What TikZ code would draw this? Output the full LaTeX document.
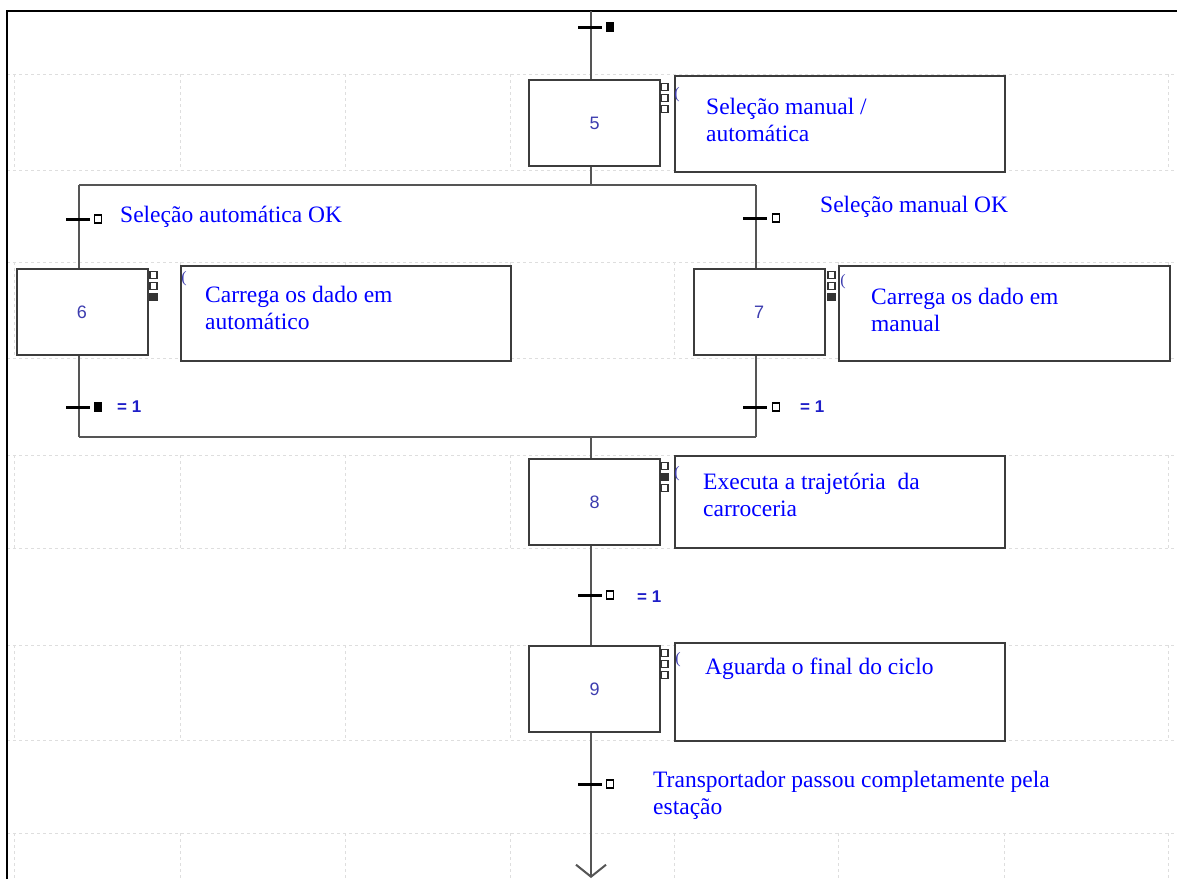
\documentclass[tikz,border=0pt]{standalone}
\usepackage{fontspec}
\setmainfont{Liberation Serif}
\newfontfamily\numfont{Liberation Sans}
\usetikzlibrary{arrows.meta}
\definecolor{txtblue}{RGB}{0,0,255}
\definecolor{numblue}{RGB}{60,60,175}
\definecolor{eqblue}{RGB}{30,30,200}
\definecolor{linegray}{RGB}{60,60,60}
\definecolor{flowgray}{RGB}{85,85,85}
\definecolor{gridgray}{RGB}{222,222,222}
\begin{document}
\begin{tikzpicture}[x=1pt,y=-1pt,
  grid/.style={draw=gridgray,line width=1pt,dash pattern=on 3pt off 3pt},
  flow/.style={draw=flowgray,line width=2pt},
  stepbox/.style={draw=linegray,line width=2pt,fill=white,minimum width=131pt,minimum height=86pt,inner sep=0pt,
    font=\numfont\fontsize{18}{18}\selectfont,text=numblue},
  actbox/.style={draw=linegray,line width=2.3pt,fill=white,inner sep=0pt,anchor=north west},
  acttext/.style={anchor=west,align=left,inner sep=0pt,text=txtblue,font=\fontsize{23.5}{27}\selectfont},
  tbar/.style={rectangle,fill=black,draw=none,minimum width=24pt,minimum height=3pt,inner sep=0pt},
  tsq/.style={rectangle,draw=black,line width=1.3pt,fill=white,minimum width=7pt,minimum height=8pt,inner sep=0pt},
  tsqf/.style={rectangle,draw=black,line width=1.3pt,fill=black,minimum width=7pt,minimum height=8pt,inner sep=0pt},
  msq/.style={rectangle,draw=black!80,line width=1.1pt,fill=white,minimum size=7pt,inner sep=0pt},
  msqf/.style={rectangle,draw=black!80,line width=1.1pt,fill=black!80,minimum size=7pt,inner sep=0pt},
  paren/.style={inner sep=0pt,text=numblue,font=\fontsize{16}{16}\selectfont},
  eqlab/.style={anchor=west,inner sep=0pt,text=eqblue,font=\numfont\bfseries\fontsize{17}{17}\selectfont},
]
\useasboundingbox (0,0) rectangle (1177,879);
\fill[white] (0,0) rectangle (1177,879);

% background editor grid
\foreach \y in {74,170,262,358,455,548,645,740,833}
  \draw[grid] (7,\y) -- (1177,\y);
\foreach \a/\b in {74/170,262/358,455/548,645/740,833/879}
  \foreach \x in {14,180,345,510,674,838,1004,1168}
    \draw[grid] (\x,\a) -- (\x,\b);

% frame
\coordinate (fBL) at (7,879);
\coordinate (fTL) at (7,11);
\coordinate (fTR) at (1177,11);
\draw[line width=2.5pt,black] (fBL) -- (fTL) -- (fTR);

% key coordinates
\coordinate (top) at (591,11);
\coordinate (bottom) at (591,878);
\coordinate (divL) at (79,185);
\coordinate (divR) at (756,185);
\coordinate (cvL) at (79,437);
\coordinate (cvR) at (756,437);

% steps
\node[stepbox] (s5) at (594.5,123) {5};
\node[stepbox] (s6) at (82,312) {6};
\node[stepbox] (s7) at (759,312) {7};
\node[stepbox] (s8) at (594.5,502) {8};
\node[stepbox] (s9) at (594.5,689) {9};

% connectors
\draw[flow] (top) -- (top |- s5.north);
\draw[flow] (top |- s5.south) -- (top |- divL);
\draw[flow] (divL) -- (divR);
\draw[flow] (divL) -- (divL |- s6.north);
\draw[flow] (divR) -- (divR |- s7.north);
\draw[flow] (divL |- s6.south) -- (cvL);
\draw[flow] (divR |- s7.south) -- (cvR);
\draw[flow] (cvL) -- (cvR);
\draw[flow] (top |- cvL) -- (top |- s8.north);
\draw[flow] (top |- s8.south) -- (top |- s9.north);
\draw[flow,-{Straight Barb[length=12pt,width=30pt,line width=2pt]}] (top |- s9.south) -- (bottom);

% transitions
\node[tbar] (t5) at (590,27) {};
\node[tsqf,anchor=west] (t5q) at (606,27) {};
\node[tbar] (t6a) at (78,219) {};
\node[tsq,anchor=west] (t6aq) at (94,219) {};
\node[tbar] (t7a) at (755,218) {};
\node[tsq,anchor=west] (t7aq) at (772,218) {};
\node[tbar] (t6b) at (78,407) {};
\node[tsqf,anchor=west] (t6bq) at (94,407) {};
\node[tbar] (t7b) at (755,407) {};
\node[tsq,anchor=west] (t7bq) at (772,407) {};
\node[tbar] (t8) at (590,595) {};
\node[tsq,anchor=west] (t8q) at (606,595) {};
\node[tbar] (t9) at (590,784) {};
\node[tsq,anchor=west] (t9q) at (606,784) {};

% transition labels
\node[acttext] (l6a) at (120,217) {Seleção automática OK};
\node[acttext] (l7a) at (820,207) {Seleção manual OK};
\node[eqlab] (l6b) at (117,407) {= 1};
\node[eqlab] (l7b) at (800,407) {= 1};
\node[eqlab] (l8) at (637,597) {= 1};
\node[acttext] (l9) at (653,795.5) {Transportador passou completamente pela\\estação};

% small marker squares beside steps
\node[msq] (m5a) at (664.5,87) {};
\node[msq] (m5b) at (664.5,98) {};
\node[msq] (m5c) at (664.5,109) {};
\node[msq] (m6a) at (153.5,275) {};
\node[msq] (m6b) at (153.5,286) {};
\node[msqf] (m6c) at (153.5,297) {};
\node[msq] (m7a) at (831.5,275) {};
\node[msq] (m7b) at (831.5,286) {};
\node[msqf] (m7c) at (831.5,297) {};
\node[msq] (m8a) at (664.5,466) {};
\node[msqf] (m8b) at (664.5,477) {};
\node[msq] (m8c) at (664.5,488) {};
\node[msq] (m9a) at (664.5,653) {};
\node[msq] (m9b) at (664.5,664) {};
\node[msq] (m9c) at (664.5,675) {};

% action boxes
\node[actbox,minimum width=330pt,minimum height=96pt] (a5) at (674,75) {};
\node[actbox,minimum width=330pt,minimum height=95pt] (a6) at (180,265) {};
\node[actbox,minimum width=331pt,minimum height=95pt] (a7) at (838,265) {};
\node[actbox,minimum width=330pt,minimum height=92pt] (a8) at (674,455) {};
\node[actbox,minimum width=330pt,minimum height=98pt] (a9) at (674,642) {};

% parentheses marks
\node[paren] (p5) at (677,95) {(};
\node[paren] (p6) at (184,279) {(};
\node[paren] (p7) at (843,282) {(};
\node[paren] (p8) at (677,474) {(};
\node[paren] (p9) at (678,660) {(};

% action texts
\node[acttext] (a5t) at (706,119.5) {Seleção manual /\\automática};
\node[acttext] (a6t) at (205,307.5) {Carrega os dado em\\automático};
\node[acttext] (a7t) at (871,309.5) {Carrega os dado em\\manual};
\node[acttext] (a8t) at (703,494.5) {Executa a trajetória\ \ da\\carroceria};
\node[acttext] (a9t) at (705,669) {Aguarda o final do ciclo};
\end{tikzpicture}
\end{document}
